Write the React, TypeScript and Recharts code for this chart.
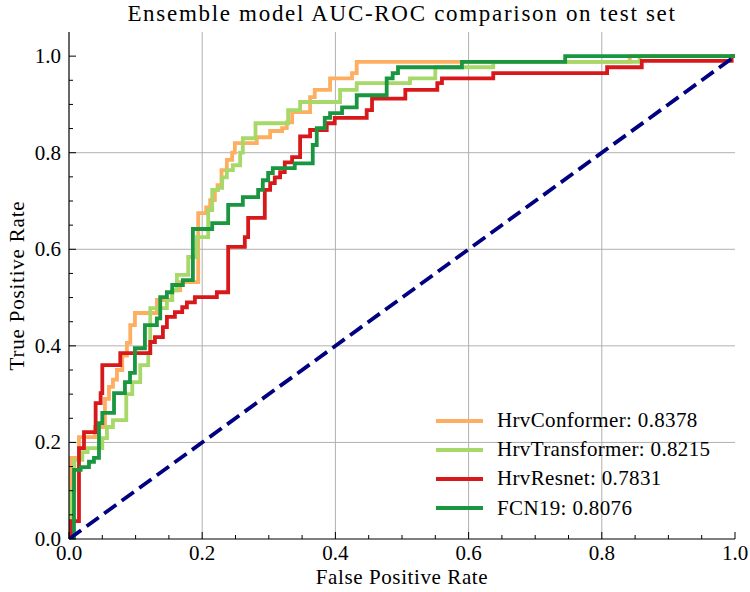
import { CartesianGrid, Legend, Line, LineChart, XAxis, YAxis } from "recharts";

const conformerRoc = [
  [0, 0], [0.003, 0], [0.003, 0.168], [0.015, 0.168], [0.015, 0.211], [0.039, 0.211], [0.039, 0.232],
  [0.054, 0.232], [0.054, 0.29], [0.06, 0.29], [0.06, 0.315], [0.066, 0.315], [0.066, 0.33], [0.072, 0.33],
  [0.072, 0.35], [0.08, 0.35], [0.08, 0.38], [0.087, 0.38], [0.087, 0.406], [0.092, 0.406], [0.092, 0.443],
  [0.099, 0.443], [0.099, 0.468], [0.132, 0.468], [0.132, 0.495], [0.155, 0.495], [0.155, 0.515],
  [0.167, 0.515], [0.167, 0.532], [0.194, 0.532], [0.194, 0.675], [0.206, 0.675], [0.206, 0.687],
  [0.212, 0.687], [0.212, 0.702], [0.219, 0.702], [0.219, 0.723], [0.223, 0.723], [0.223, 0.733],
  [0.229, 0.733], [0.229, 0.764], [0.237, 0.764], [0.237, 0.785], [0.245, 0.785], [0.245, 0.8],
  [0.249, 0.8], [0.249, 0.82], [0.282, 0.82], [0.282, 0.832], [0.302, 0.832], [0.302, 0.845], [0.32, 0.845],
  [0.32, 0.851], [0.327, 0.851], [0.327, 0.863], [0.335, 0.863], [0.335, 0.884], [0.362, 0.884],
  [0.362, 0.915], [0.369, 0.915], [0.369, 0.93], [0.392, 0.93], [0.392, 0.954], [0.425, 0.954],
  [0.425, 0.965], [0.432, 0.965], [0.432, 0.988], [0.842, 0.988], [0.842, 1], [1, 1],
];

const transformerRoc = [
  [0, 0], [0.003, 0], [0.003, 0.101], [0.008, 0.101], [0.008, 0.164], [0.02, 0.164], [0.02, 0.18],
  [0.028, 0.18], [0.028, 0.188], [0.05, 0.188], [0.05, 0.209], [0.057, 0.209], [0.057, 0.232],
  [0.066, 0.232], [0.066, 0.246], [0.086, 0.246], [0.086, 0.3], [0.095, 0.3], [0.095, 0.325],
  [0.107, 0.325], [0.107, 0.36], [0.119, 0.36], [0.119, 0.385], [0.122, 0.385], [0.122, 0.478],
  [0.147, 0.478], [0.147, 0.495], [0.155, 0.495], [0.155, 0.515], [0.162, 0.515], [0.162, 0.547],
  [0.179, 0.547], [0.179, 0.584], [0.192, 0.584], [0.192, 0.625], [0.209, 0.625], [0.209, 0.681],
  [0.215, 0.681], [0.215, 0.723], [0.224, 0.723], [0.224, 0.727], [0.23, 0.727], [0.23, 0.749],
  [0.237, 0.749], [0.237, 0.764], [0.246, 0.764], [0.246, 0.774], [0.257, 0.774], [0.257, 0.8],
  [0.261, 0.8], [0.261, 0.83], [0.28, 0.83], [0.28, 0.861], [0.329, 0.861], [0.329, 0.888],
  [0.347, 0.888], [0.347, 0.905], [0.407, 0.905], [0.407, 0.93], [0.432, 0.93], [0.432, 0.944],
  [0.512, 0.944], [0.512, 0.954], [0.55, 0.954], [0.55, 0.977], [0.637, 0.977], [0.637, 0.988],
  [0.857, 0.988], [0.857, 1], [1, 1],
];

const resnetRoc = [
  [0, 0], [0.003, 0], [0.003, 0.037], [0.015, 0.037], [0.015, 0.188], [0.0225, 0.188], [0.0225, 0.2215],
  [0.04, 0.2215], [0.04, 0.2816], [0.0475, 0.2816], [0.0475, 0.302], [0.05, 0.302], [0.05, 0.36],
  [0.077, 0.36], [0.077, 0.385], [0.122, 0.385], [0.122, 0.408], [0.129, 0.408], [0.129, 0.418],
  [0.141, 0.418], [0.141, 0.439], [0.147, 0.439], [0.147, 0.46], [0.159, 0.46], [0.159, 0.47],
  [0.17, 0.47], [0.17, 0.48], [0.177, 0.48], [0.177, 0.49], [0.189, 0.49], [0.189, 0.501],
  [0.222, 0.501], [0.222, 0.511], [0.239, 0.511], [0.239, 0.605], [0.264, 0.605], [0.264, 0.625],
  [0.269, 0.625], [0.269, 0.665], [0.294, 0.665], [0.294, 0.723], [0.302, 0.723], [0.302, 0.737],
  [0.309, 0.737], [0.309, 0.749], [0.317, 0.749], [0.317, 0.76], [0.324, 0.76], [0.324, 0.78],
  [0.335, 0.78], [0.335, 0.791], [0.347, 0.791], [0.347, 0.834], [0.362, 0.834], [0.362, 0.847],
  [0.387, 0.847], [0.387, 0.861], [0.399, 0.861], [0.399, 0.872], [0.447, 0.872], [0.447, 0.888],
  [0.455, 0.888], [0.455, 0.912], [0.505, 0.912], [0.505, 0.93], [0.553, 0.93], [0.553, 0.944],
  [0.56, 0.944], [0.56, 0.954], [0.637, 0.954], [0.637, 0.965], [0.808, 0.965], [0.808, 0.977],
  [0.86, 0.977], [0.86, 0.99], [0.995, 0.99], [0.995, 1], [1, 1],
];

const fcnRoc = [
  [0, 0], [0.0075, 0], [0.0075, 0.143], [0.0175, 0.143], [0.0175, 0.149], [0.03, 0.149], [0.03, 0.16],
  [0.0375, 0.16], [0.0375, 0.168], [0.045, 0.168], [0.045, 0.24], [0.05, 0.24], [0.05, 0.261],
  [0.0676, 0.261], [0.0676, 0.302], [0.084, 0.302], [0.084, 0.325], [0.0916, 0.325], [0.0916, 0.344],
  [0.099, 0.344], [0.099, 0.395], [0.114, 0.395], [0.114, 0.443], [0.132, 0.443], [0.132, 0.457],
  [0.137, 0.457], [0.137, 0.501], [0.147, 0.501], [0.147, 0.511], [0.155, 0.511], [0.155, 0.526],
  [0.171, 0.526], [0.171, 0.536], [0.186, 0.536], [0.186, 0.642], [0.215, 0.642], [0.215, 0.654],
  [0.239, 0.654], [0.239, 0.692], [0.261, 0.692], [0.261, 0.708], [0.284, 0.708], [0.284, 0.723],
  [0.291, 0.723], [0.291, 0.743], [0.299, 0.743], [0.299, 0.758], [0.306, 0.758], [0.306, 0.768],
  [0.339, 0.768], [0.339, 0.778], [0.366, 0.778], [0.366, 0.816], [0.372, 0.816], [0.372, 0.851],
  [0.384, 0.851], [0.384, 0.872], [0.392, 0.872], [0.392, 0.882], [0.41, 0.882], [0.41, 0.894],
  [0.432, 0.894], [0.432, 0.919], [0.477, 0.919], [0.477, 0.954], [0.486, 0.954], [0.486, 0.965],
  [0.494, 0.965], [0.494, 0.977], [0.59, 0.977], [0.59, 0.988], [0.745, 0.988], [0.745, 1], [1, 1],
];

const chanceLine = [[0, 0], [1, 1]];

const seriesNames = ["HrvConformer: 0.8378", "HrvTransformer: 0.8215", "HrvResnet: 0.7831", "FCN19: 0.8076"];
const seriesColors = ["#fdae61", "#a6d96a", "#d7191c", "#1a9641"];

const xTicks = [0, 0.05, 0.1, 0.15, 0.2, 0.25, 0.3, 0.35, 0.4, 0.45, 0.5, 0.55, 0.6, 0.65, 0.7, 0.75, 0.8, 0.85, 0.9, 0.95, 1.0];
const yTicks = [0, 0.05, 0.1, 0.15, 0.2, 0.25, 0.3, 0.35, 0.4, 0.45, 0.5, 0.55, 0.6, 0.65, 0.7, 0.75, 0.8, 0.85, 0.9, 0.95, 1.0];
const majorTicks = [0, 0.2, 0.4, 0.6, 0.8, 1.0];

const toPoints = (rows: number[][]) => rows.map(([fpr, tpr]) => ({ fpr, tpr }));

const FONT = "'Liberation Serif', serif";
const isMajor = (v: number) => majorTicks.some((m) => Math.abs(m - v) < 1e-6);

function BottomTick(props: any) {
  const { x, y, payload } = props;
  const major = isMajor(payload.value);
  return (
    <g>
      <line x1={x} x2={x} y1={y} y2={y - (major ? 7 : 4)} stroke="#000" strokeWidth={1} />
      {major && (
        <text x={x} y={y + 21} textAnchor="middle" fontFamily={FONT} fontSize={21} fill="#000">
          {payload.value.toFixed(1)}
        </text>
      )}
    </g>
  );
}

function TopTick(props: any) {
  const { x, y, payload } = props;
  const major = isMajor(payload.value);
  return <line x1={x} x2={x} y1={y} y2={y + (major ? 7 : 4)} stroke="#000" strokeWidth={1} />;
}

function LeftTick(props: any) {
  const { x, y, payload } = props;
  const major = isMajor(payload.value);
  return (
    <g>
      <line x1={x} x2={x + (major ? 7 : 4)} y1={y} y2={y} stroke="#000" strokeWidth={1} />
      {major && (
        <text x={x - 8} y={y + 7} textAnchor="end" fontFamily={FONT} fontSize={21} fill="#000">
          {payload.value.toFixed(1)}
        </text>
      )}
    </g>
  );
}

function RightTick(props: any) {
  const { x, y, payload } = props;
  const major = isMajor(payload.value);
  return <line x1={x} x2={x - (major ? 7 : 4)} y1={y} y2={y} stroke="#000" strokeWidth={1} />;
}

// keep the plotting order in the legend (recharts sorts by name otherwise)
function LegendBox(props: any) {
  const items = (props.payload || [])
    .filter((p: any) => seriesNames.includes(p.value))
    .sort((a: any, b: any) => seriesNames.indexOf(a.value) - seriesNames.indexOf(b.value));
  return (
    <div style={{ display: "flex", flexDirection: "column" }}>
      {items.map((entry: any) => (
        <div key={entry.value} style={{ display: "flex", alignItems: "center", height: 29.2 }}>
          <svg width={47} height={10} style={{ display: "block" }}>
            <line x1={0} x2={47} y1={5} y2={5} stroke={entry.color} strokeWidth={3.8} />
          </svg>
          <span
            style={{
              marginLeft: 14,
              fontFamily: FONT,
              fontSize: 21,
              letterSpacing: 0.35,
              color: "#000",
              whiteSpace: "nowrap",
            }}
          >
            {entry.value}
          </span>
        </div>
      ))}
    </div>
  );
}

const axisLine = { stroke: "#000", strokeWidth: 1.2 };

export default function App() {
  if (typeof document !== "undefined") document.body.style.margin = "0";
  const rocs = [conformerRoc, transformerRoc, resnetRoc, fcnRoc];
  return (
    <div style={{ position: "relative", width: 750, height: 592, background: "#fff" }}>
      <div
        style={{
          position: "absolute",
          top: 1,
          left: 69,
          width: 666,
          textAlign: "center",
          fontFamily: FONT,
          fontSize: 23,
          letterSpacing: 1.7,
          lineHeight: "26px",
          color: "#000",
          whiteSpace: "nowrap",
        }}
      >
        Ensemble model AUC-ROC comparison on test set
      </div>
      <LineChart width={750} height={592} margin={{ top: 32, right: 15, bottom: 8, left: 9 }}>
        <CartesianGrid
          stroke="#b0b0b0"
          strokeWidth={1}
          horizontalValues={majorTicks.slice(1, 5)}
          verticalValues={majorTicks.slice(1, 5)}
        />
        <XAxis
          dataKey="fpr"
          type="number"
          domain={[0, 1]}
          ticks={xTicks}
          interval={0}
          tickSize={0}
          tickMargin={0}
          tickLine={false}
          tick={<BottomTick />}
          axisLine={axisLine}
          height={45}
          allowDataOverflow
          label={{
            value: "False Positive Rate",
            position: "insideBottom",
            offset: 0,
            fontFamily: FONT,
            fontSize: 21,
            letterSpacing: 0.6,
            fill: "#000",
          }}
        />
        <XAxis
          xAxisId="top"
          orientation="top"
          type="number"
          domain={[0, 1]}
          ticks={xTicks}
          interval={0}
          tickSize={0}
          tickMargin={0}
          tickLine={false}
          tick={<TopTick />}
          axisLine={axisLine}
          height={0}
          allowDataOverflow
        />
        <YAxis
          type="number"
          domain={[0, 1.05]}
          ticks={yTicks}
          interval={0}
          tickSize={0}
          tickMargin={0}
          tickLine={false}
          tick={<LeftTick />}
          axisLine={axisLine}
          width={60}
          allowDataOverflow
          label={{
            value: "True Positive Rate",
            angle: -90,
            position: "insideLeft",
            offset: 8,
            style: { textAnchor: "middle" },
            fontFamily: FONT,
            fontSize: 21,
            letterSpacing: 0.8,
            fill: "#000",
          }}
        />
        <YAxis
          yAxisId="right"
          orientation="right"
          type="number"
          domain={[0, 1.05]}
          ticks={yTicks}
          interval={0}
          tickSize={0}
          tickMargin={0}
          tickLine={false}
          tick={<RightTick />}
          axisLine={axisLine}
          width={0}
          allowDataOverflow
        />
        {rocs.map((roc, i) => (
          <Line
            key={seriesNames[i]}
            data={toPoints(roc)}
            dataKey="tpr"
            name={seriesNames[i]}
            type="linear"
            stroke={seriesColors[i]}
            strokeWidth={3.8}
            dot={false}
            isAnimationActive={false}
          />
        ))}
        <Line
          data={toPoints(chanceLine)}
          dataKey="tpr"
          name="chance"
          legendType="none"
          type="linear"
          stroke="#000080"
          strokeWidth={3.8}
          strokeDasharray="15 6.7"
          dot={false}
          isAnimationActive={false}
        />
        <Legend
          layout="vertical"
          align="center"
          verticalAlign="middle"
          content={<LegendBox />}
          wrapperStyle={{ left: 436, top: 406, width: 300 }}
        />
      </LineChart>
    </div>
  );
}
